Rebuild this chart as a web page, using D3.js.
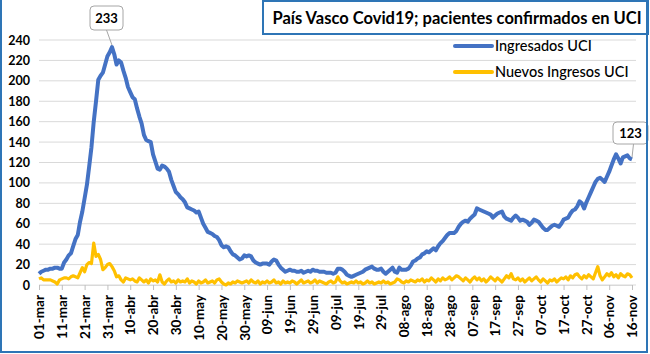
<!DOCTYPE html>
<html>
<head>
<meta charset="utf-8">
<script src="https://cdn.jsdelivr.net/npm/d3@7"></script>
<style>
  body { margin: 0; background: #fff; }
  svg { display: block; font-family: Lato, "Open Sans", sans-serif; }
</style>
</head>
<body>
<svg id="chart" width="650" height="354"></svg>
<script>
// daily values from 01-mar-2020 to 16-nov-2020
const startDate = new Date(2020, 2, 1);

const ingresadosUCI = [
  11, 13, 14, 15, 15, 16, 16, 17, 17, 16,
  16, 22, 25, 29, 31, 38, 45, 49, 62, 72,
  85, 98, 116, 135, 160, 180, 201, 205, 208, 216,
  224, 228, 233, 226, 216, 220, 218, 210, 203, 194,
  189, 184, 182, 173, 165, 158, 147, 142, 141, 140,
  128, 121, 114, 113, 117, 116, 114, 111, 103, 97,
  91, 89, 86, 84, 81, 76, 75, 74, 73, 71,
  72, 66, 60, 56, 52, 51, 50, 48, 47, 44,
  39, 37, 38, 37, 33, 30, 29, 27, 25, 26,
  29, 28, 29, 28, 24, 22, 21, 20, 21, 21,
  21, 20, 23, 25, 24, 20, 17, 15, 13, 14,
  15, 14, 14, 13, 13, 14, 12, 13, 14, 13,
  15, 14, 14, 13, 13, 13, 12, 12, 12, 11,
  12, 16, 16, 15, 13, 10, 9, 8, 9, 10,
  11, 12, 13, 15, 16, 17, 18, 16, 15, 15,
  16, 13, 11, 13, 15, 17, 13, 12, 17, 15,
  15, 15, 16, 19, 23, 24, 26, 27, 30, 31,
  33, 32, 34, 36, 34, 38, 41, 43, 46, 49,
  51, 51, 51, 53, 57, 60, 62, 63, 62, 65,
  67, 69, 75, 74, 73, 72, 71, 70, 69, 66,
  68, 70, 71, 72, 67, 65, 64, 63, 66, 68,
  66, 63, 64, 63, 62, 59, 61, 64, 63, 62,
  59, 56, 54, 54, 56, 58, 59, 58, 57, 60,
  64, 65, 66, 70, 73, 74, 77, 82, 80, 75,
  81, 86, 91, 96, 101, 104, 105, 103, 101, 106,
  111, 117, 123, 128, 124, 119, 125, 126, 127, 124, 123
];

const nuevosIngresosUCI = [
  6, 7, 5, 5, 5, 5, 4, 3, 1, 5,
  6, 7, 7, 6, 8, 9, 8, 7, 12, 17,
  13, 20, 22, 21, 41, 28, 30, 25, 15, 17,
  20, 21, 18, 14, 8, 9, 5, 3, 7, 6,
  5, 6, 4, 3, 7, 5, 3, 5, 2, 6,
  4, 5, 3, 10, 3, 1, 4, 6, 3, 4,
  2, 5, 3, 4, 3, 6, 2, 4, 3, 1,
  4, 2, 3, 5, 2, 3, 4, 2, 5, 6,
  3, 1, 0, 2, 1, 3, 2, 4, 3, 2,
  3, 4, 2, 5, 3, 2, 4, 1, 3, 2,
  4, 2, 3, 5, 2, 3, 1, 4, 2, 3,
  2, 4, 3, 1, 3, 5, 2, 3, 4, 2,
  3, 5, 2, 4, 3, 2, 1, 3, 4, 2,
  3, 8, 4, 2, 3, 1, 2, 3, 2, 4,
  2, 3, 1, 2, 4, 2, 3, 1, 2, 3,
  2, 4, 2, 3, 1, 2, 3, 6, 5, 3,
  2, 4, 3, 5, 4, 3, 5, 4, 6, 3,
  5, 4, 7, 5, 3, 6, 4, 7, 5, 6,
  8, 5, 7, 9, 8, 6, 4, 7, 5, 3,
  6, 8, 5, 7, 4, 6, 3, 5, 8, 6,
  4, 7, 5, 3, 6, 9, 7, 11, 6, 5,
  7, 4, 6, 3, 5, 7, 4, 6, 8, 5,
  3, 6, 4, 2, 5, 4, 6, 3, 5, 7,
  6, 8, 5, 9, 7, 10, 11, 8, 6, 9,
  7, 10, 8, 6, 12, 18, 9, 5, 8, 11,
  9, 12, 8, 10, 7, 11, 9, 8, 11, 10, 7
];

const seriesNames = ["Ingresados UCI", "Nuevos Ingresos UCI"];
const seriesColors = ["#4472C4", "#FFC000"];
const yTicks = [0, 20, 40, 60, 80, 100, 120, 140, 160, 180, 200, 220, 240];
const titleText = "País Vasco Covid19; pacientes confirmados en UCI";

const es = d3.timeFormatLocale({
  dateTime: "%x, %X", date: "%d/%m/%Y", time: "%H:%M:%S",
  periods: ["AM", "PM"],
  days: ["domingo", "lunes", "martes", "miércoles", "jueves", "viernes", "sábado"],
  shortDays: ["dom", "lun", "mar", "mié", "jue", "vie", "sáb"],
  months: ["enero", "febrero", "marzo", "abril", "mayo", "junio", "julio", "agosto", "septiembre", "octubre", "noviembre", "diciembre"],
  shortMonths: ["ene", "feb", "mar", "abr", "may", "jun", "jul", "ago", "sep", "oct", "nov", "dic"]
});
const fmt = es.format("%d-%b");

const dates = ingresadosUCI.map((_, i) => d3.timeDay.offset(startDate, i));

const svg = d3.select("#chart");
const plotLeft = 39, plotRight = 632, plotTop = 40, plotBottom = 285;

const x = d3.scaleTime().domain([dates[0], dates[dates.length - 1]]).range([plotLeft, plotRight]);
const y = d3.scaleLinear().domain([0, 240]).range([plotBottom, plotTop]);

// gridlines
svg.append("g")
  .selectAll("line")
  .data(yTicks)
  .join("line")
  .attr("x1", plotLeft).attr("x2", 636)
  .attr("y1", d => y(d)).attr("y2", d => y(d))
  .attr("stroke", "#d9d9d9").attr("stroke-width", 1);

// y axis labels
const yAxis = svg.append("g")
  .attr("transform", `translate(${plotLeft},0)`)
  .call(d3.axisLeft(y).tickValues(yTicks).tickSize(0).tickPadding(9));
yAxis.select(".domain").remove();
yAxis.selectAll("text")
  .attr("font-family", "Lato, sans-serif")
  .attr("font-size", 12.5).attr("font-weight", "bold").attr("fill", "#000");

// x axis
const xTickDates = d3.range(0, dates.length, 10).map(i => dates[i]);
const xAxis = svg.append("g")
  .attr("transform", `translate(0,${plotBottom})`)
  .call(d3.axisBottom(x).tickValues(xTickDates).tickFormat(fmt).tickSize(5).tickSizeOuter(0));
xAxis.select(".domain").attr("stroke", "#d9d9d9");
xAxis.selectAll(".tick line").attr("stroke", "#bfbfbf");
xAxis.selectAll("text")
  .attr("font-family", "Lato, sans-serif")
  .attr("font-size", 13.5).attr("font-weight", "bold").attr("fill", "#000")
  .attr("transform", "rotate(-90)")
  .attr("text-anchor", "end")
  .attr("x", -10).attr("y", 0).attr("dy", "0.35em");

// lines
const line = d3.line()
  .x((d, i) => x(dates[i]))
  .y(d => y(d));

[nuevosIngresosUCI, ingresadosUCI].forEach((vals, k) => {
  const idx = k === 0 ? 1 : 0;
  svg.append("path")
    .datum(vals)
    .attr("fill", "none")
    .attr("stroke", seriesColors[idx])
    .attr("stroke-width", idx === 0 ? 4 : 3.2)
    .attr("stroke-linejoin", "round")
    .attr("d", line);
});

// legend
const legend = svg.append("g");
seriesNames.forEach((name, i) => {
  const ly = 46 + i * 26;
  legend.append("line")
    .attr("x1", 455).attr("x2", 492).attr("y1", ly).attr("y2", ly)
    .attr("stroke", seriesColors[i]).attr("stroke-width", 4).attr("stroke-linecap", "round");
  legend.append("text")
    .attr("x", 495).attr("y", ly).attr("dy", "0.36em")
    .attr("font-size", 14.5).attr("font-weight", 500).attr("fill", "#000")
    .text(name);
});

// data callouts
function callout(i, bx, by, bw, bh) {
  const px = x(dates[i]), py = y(ingresadosUCI[i]);
  svg.append("line")
    .attr("x1", bx + bw / 2 + (i > 200 ? 3 : 0)).attr("y1", by + bh)
    .attr("x2", px).attr("y2", py - 2)
    .attr("stroke", "#a6a6a6").attr("stroke-width", 1);
  svg.append("rect")
    .attr("x", bx).attr("y", by).attr("width", bw).attr("height", bh)
    .attr("rx", 4).attr("fill", "#fff").attr("stroke", "#a6a6a6").attr("stroke-width", 1);
  svg.append("text")
    .attr("x", bx + bw / 2).attr("y", by + bh / 2).attr("dy", "0.36em")
    .attr("text-anchor", "middle")
    .attr("font-size", 13).attr("font-weight", "bold")
    .text(ingresadosUCI[i]);
}
const peakIdx = ingresadosUCI.indexOf(d3.max(ingresadosUCI));
callout(peakIdx, 90, 6, 33, 24);
callout(ingresadosUCI.length - 1, 613, 122, 35, 22);

// title box
svg.append("rect")
  .attr("x", 263).attr("y", 1).attr("width", 385).attr("height", 33)
  .attr("fill", "#fff").attr("stroke", "#2e75b6").attr("stroke-width", 2);
svg.append("text")
  .attr("x", 457).attr("y", 18).attr("dy", "0.36em")
  .attr("text-anchor", "middle")
  .attr("font-size", 16.5).attr("font-weight", "bold")
  .text(titleText);

// outer frame
svg.append("path")
  .attr("d", "M1,0 V352 H647 V0")
  .attr("fill", "none").attr("stroke", "#2e75b6").attr("stroke-width", 2);
</script>
</body>
</html>
